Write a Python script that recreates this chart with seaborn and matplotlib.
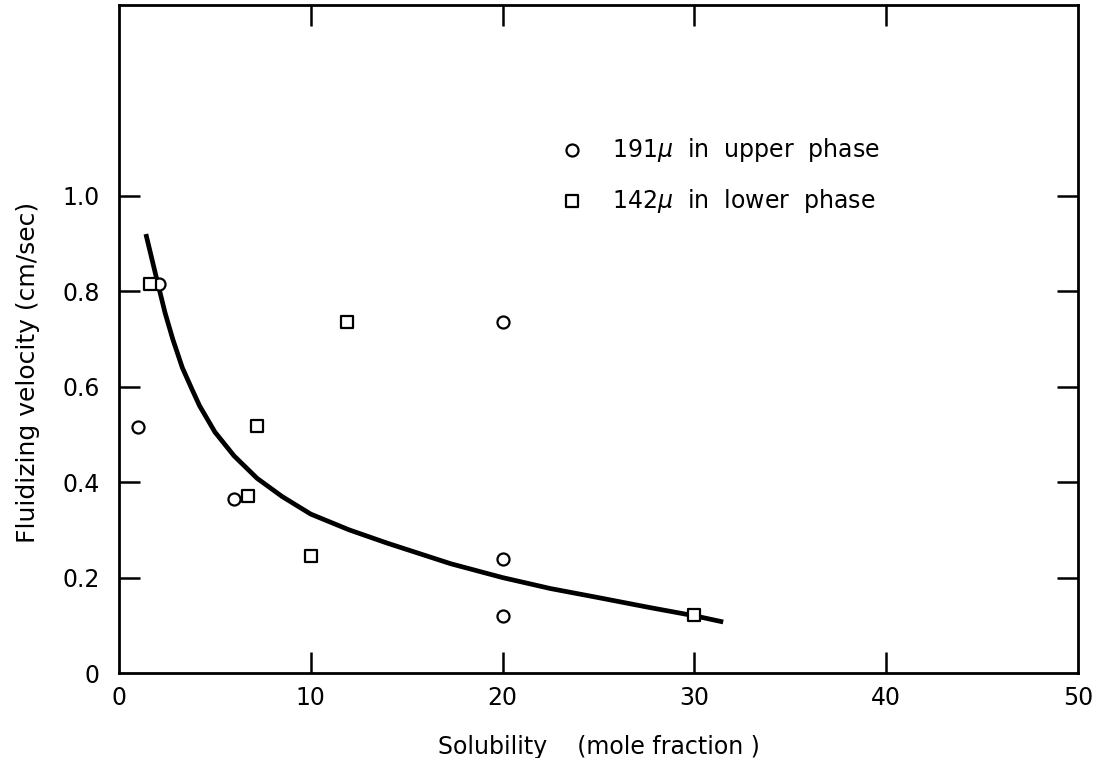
import matplotlib
matplotlib.use("Agg")
import matplotlib.pyplot as plt
import seaborn as sns
import pandas as pd

# Measured points: 191 micron particles in the upper phase
upper_x = [1.0, 2.1, 6.0, 20.0, 20.0, 20.0]
upper_y = [0.515, 0.815, 0.365, 0.735, 0.24, 0.12]

# Measured points: 142 micron particles in the lower phase
lower_x = [1.6, 6.7, 7.2, 10.0, 11.9, 30.0]
lower_y = [0.815, 0.37, 0.517, 0.245, 0.735, 0.122]

# Smoothed trend curve through the data
curve_x = [1.4, 1.7, 2.0, 2.4, 2.8, 3.3, 3.8, 4.2, 5.0, 6.0, 7.2, 8.5,
           10.0, 12.0, 14.0, 17.3, 20.0, 22.5, 25.0, 27.7, 30.0, 31.5]
curve_y = [0.92, 0.87, 0.82, 0.755, 0.70, 0.64, 0.595, 0.56, 0.505, 0.455,
           0.408, 0.37, 0.333, 0.30, 0.272, 0.229, 0.20, 0.177, 0.158,
           0.137, 0.12, 0.107]

x_ticks = [0, 10, 20, 30, 40, 50]
y_ticks = [0, 0.2, 0.4, 0.6, 0.8, 1.0]
y_tick_labels = ["0", "0.2", "0.4", "0.6", "0.8", "1.0"]

legend_labels = [r"191$\mu$  in  upper  phase", r"142$\mu$  in  lower  phase"]

sns.set_theme(style="ticks")
plt.rcParams["font.family"] = ["DejaVu Sans"]
plt.rcParams["mathtext.fontset"] = "dejavusans"
plt.rcParams["text.color"] = "black"
plt.rcParams["axes.labelcolor"] = "black"

fs = 17

fig = plt.figure(figsize=(10.98, 7.58), dpi=100)
ax = fig.add_axes([0.1084, 0.1121, 0.8734, 0.8813])

curve_df = pd.DataFrame({"x": curve_x, "y": curve_y})
sns.lineplot(data=curve_df, x="x", y="y", ax=ax, color="black", lw=3.4,
             sort=False, estimator=None, solid_joinstyle="round",
             solid_capstyle="butt")

marker_kw = dict(facecolor="white", edgecolor="black", linewidth=1.6, zorder=5)
sns.scatterplot(x=upper_x, y=upper_y, ax=ax, marker="o", s=75, **marker_kw)
sns.scatterplot(x=lower_x, y=lower_y, ax=ax, marker="s", s=70, **marker_kw)

ax.set_xlim(0, 50)
ax.set_ylim(0, 1.4)

ax.set_xticks(x_ticks)
ax.set_xticklabels([str(v) for v in x_ticks], fontsize=fs, color="black")
ax.set_yticks(y_ticks)
ax.set_yticklabels(y_tick_labels, fontsize=fs, color="black")

# inward ticks on all four sides, none at the corners
ax.tick_params(axis="both", direction="in", length=15, width=1.8,
               colors="black", top=True, right=True)
ax.tick_params(axis="x", pad=9)
ax.tick_params(axis="y", pad=14)
for t in [ax.xaxis.get_major_ticks()[0], ax.xaxis.get_major_ticks()[-1],
          ax.yaxis.get_major_ticks()[0]]:
    t.tick1line.set_visible(False)
    t.tick2line.set_visible(False)

for sp in ax.spines.values():
    sp.set_visible(True)
    sp.set_linewidth(2.0)
    sp.set_color("black")

ax.set_xlabel("Solubility    (mole fraction )", fontsize=fs, labelpad=18,
              color="black")
ax.set_ylabel("Fluidizing velocity (cm/sec)", fontsize=fs + 1, color="black")
ax.yaxis.set_label_coords(-0.082, 0.45)

# key for the two particle sizes
ax.scatter([23.6], [1.097], marker="o", s=75, **marker_kw, clip_on=False)
ax.scatter([23.6], [0.99], marker="s", s=70, **marker_kw, clip_on=False)
ax.text(25.7, 1.097, legend_labels[0], fontsize=fs, va="center", ha="left",
        color="black")
ax.text(25.7, 0.99, legend_labels[1], fontsize=fs, va="center", ha="left",
        color="black")

fig.savefig("out.png", dpi=100, facecolor="white")
